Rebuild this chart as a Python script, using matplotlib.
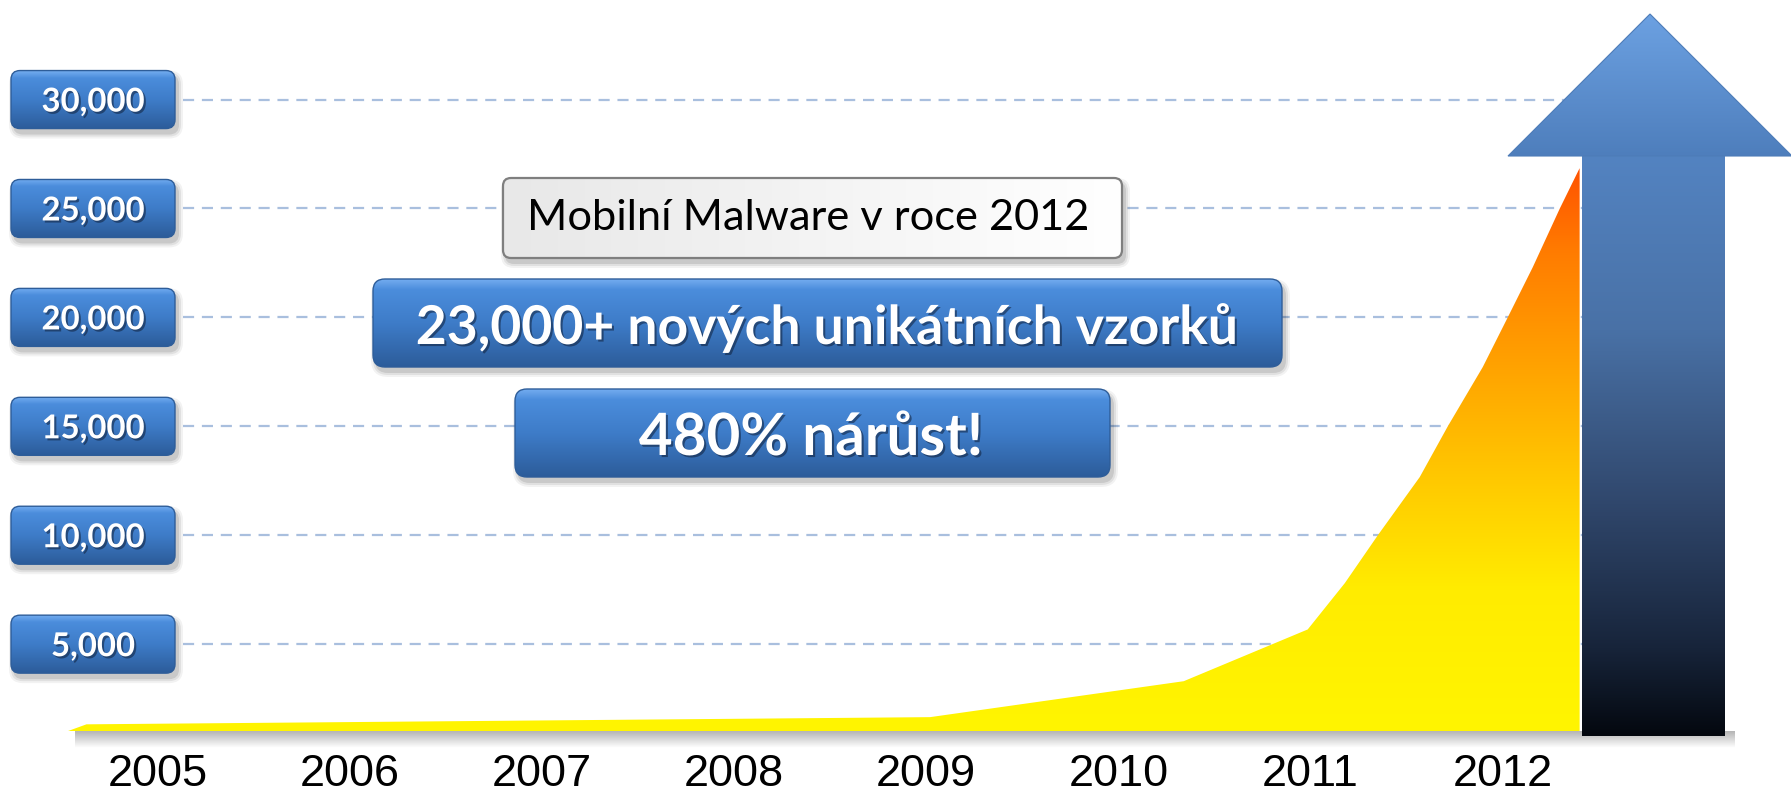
import numpy as np
import matplotlib
matplotlib.use('Agg')
import matplotlib.pyplot as plt
from matplotlib.patches import FancyBboxPatch, Polygon, Rectangle
from matplotlib.colors import LinearSegmentedColormap
import matplotlib.patheffects as pe

# data
years = [2005, 2006, 2007, 2008, 2009, 2010, 2011, 2012]
curve_x = [2004.53, 2004.63, 2009.02, 2010.34, 2010.985, 2011.178, 2011.35, 2011.568, 2011.714,
           2011.896, 2012.026, 2012.156, 2012.297, 2012.40]
curve_y = [1000, 1320, 1650, 3300, 5675, 7800, 10000, 12670, 15000, 17720, 20000, 22300, 25000, 26850]
y_ticks = [5000, 10000, 15000, 20000, 25000, 30000]
y_labels = ['5,000', '10,000', '15,000', '20,000', '25,000', '30,000']
title_text = 'Mobilní Malware v roce 2012'
headline = '23,000+ nových unikátních vzorků'
growth = '480% nárůst!'

W, H = 1791, 796
BASE = 731.3          # pixel row of the area baseline
YMIN, YMAX = 1000, 34570
FONT = ['Lato', 'DejaVu Sans']

fig = plt.figure(figsize=(W / 100, H / 100), dpi=100, facecolor='white')

bg = fig.add_axes([0, 0, 1, 1], zorder=0)
ax = fig.add_axes([0, (H - BASE) / H, 1, BASE / H], zorder=1)
ov = fig.add_axes([0, 0, 1, 1], zorder=2)
for a in (bg, ov):
    a.axis('off')
ax.patch.set_visible(False)
for s in ax.spines.values():
    s.set_visible(False)

blue = LinearSegmentedColormap.from_list('blue', [(0, '#74ADF0'), (0.12, '#4B8DDC'), (0.5, '#3E7CC8'), (1, '#2C5C9A')])
grey = LinearSegmentedColormap.from_list('grey', ['#E8E8E8', '#FFFFFF'])
fire = LinearSegmentedColormap.from_list('fire', [(0, '#FFF500'), (0.25, '#FFEC00'), (0.45, '#FFC800'),
                                                  (0.65, '#FFA200'), (0.85, '#FF7C00'), (1, '#FF5200')])
shaft_cm = LinearSegmentedColormap.from_list('shaft', [(0, '#5383C1'), (0.3, '#4971A6'), (0.6, '#30476C'),
                                                      (0.85, '#17243A'), (1, '#04080F')])
head_cm = LinearSegmentedColormap.from_list('head', ['#6CA1E2', '#4E7EBC'])

grad_v = np.linspace(0, 1, 256).reshape(-1, 1)
grad_h = np.linspace(0, 1, 256).reshape(1, -1)


def val_px(v):
    return BASE - (v - YMIN) / (YMAX - YMIN) * BASE


def gbox(a, x0, y0, x1, y1, cmap, r, ec, lw, horiz=False, z=3):
    for k, al in [(5, 0.05), (3, 0.07), (1, 0.1)]:
        a.add_patch(FancyBboxPatch((x0 + 3 - k, y0 + 5 - k), x1 - x0 + 2 * k, y1 - y0 + 2 * k,
                                   boxstyle=f'round,pad=0,rounding_size={r + k}',
                                   fc='black', ec='none', alpha=al, zorder=z - 0.5))
    p = FancyBboxPatch((x0, y0), x1 - x0, y1 - y0, boxstyle=f'round,pad=0,rounding_size={r}',
                       fc='none', ec=ec, lw=lw, zorder=z + 0.1)
    a.add_patch(p)
    im = a.imshow(grad_h if horiz else grad_v, extent=(x0, x1, y1, y0), cmap=cmap, aspect='auto',
                  origin='upper', interpolation='bicubic', zorder=z)
    im.set_clip_path(p)


shadow = [pe.withSimplePatchShadow(offset=(1.5, -1.5), shadow_rgbFace='#10203a', alpha=0.55)]

# y labels in blue boxes
for v in y_ticks:
    yc = val_px(v)
    gbox(bg, 11, yc - 29, 175, yc + 29, blue, 9, '#2E5D99', 1)

# gridlines
ax.hlines(y_ticks, 2005.132, 2012.5, colors='#A9BFDE', lw=1.6, linestyles=(0, (5, 3.5)), zorder=0.5)

# area with vertical gradient
poly = ax.fill_between(curve_x, curve_y, YMIN, facecolor='none', edgecolor='none', zorder=1)
im = ax.imshow(grad_v[::-1], extent=(min(curve_x), max(curve_x), YMIN, max(curve_y)), cmap=fire,
               aspect='auto', origin='upper', zorder=1)
im.set_clip_path(poly.get_paths()[0], ax.transData)

ax.set_xlim(2004.18, 2013.5)
ax.set_ylim(YMIN, YMAX)
ax.set_xticks(years, labels=[str(y) for y in years])
ax.set_yticks(y_ticks, labels=y_labels)
ax.tick_params(axis='x', length=0, pad=16)
ax.tick_params(axis='y', length=0, pad=-67)
for lbl in ax.get_xticklabels():
    lbl.set_fontsize(32.5)
    lbl.set_family(['Liberation Sans', 'DejaVu Sans'])
for lbl in ax.get_yticklabels():
    lbl.set_ha('center')
    lbl.set_fontsize(23.7)
    lbl.set_fontweight('bold')
    lbl.set_family(FONT)
    lbl.set_color('white')
    lbl.set_path_effects(shadow)

# soft shadow under area
sh = np.zeros((30, 1, 4))
sh[..., :3] = 0.35
sh[..., 3] = np.linspace(0.45, 0, 30).reshape(-1, 1)
ov.imshow(sh, extent=(75, 1735, 748, 731), aspect='auto', origin='upper', zorder=1)

# arrow
shaft = Rectangle((1582, 156), 143, 580, fc='none', ec='none', zorder=5)
ov.add_patch(shaft)
im = ov.imshow(grad_v, extent=(1582, 1725, 736, 156), cmap=shaft_cm, aspect='auto', origin='upper', zorder=5)
im.set_clip_path(shaft)
head = Polygon([(1508, 156), (1650, 14), (1792, 156)], closed=True, fc='none', ec='#4D7CB8', lw=0.8, zorder=6)
ov.add_patch(head)
im = ov.imshow(grad_v, extent=(1508, 1792, 156, 14), cmap=head_cm, aspect='auto', origin='upper', zorder=5.9)
im.set_clip_path(head)

# text boxes
gbox(ov, 503, 178, 1122, 258, grey, 8, '#7F7F7F', 1.6, horiz=True)
ov.text(808, 230, title_text, ha='center', va='baseline', fontsize=31.2, family=FONT, color='black', zorder=10)

gbox(ov, 373, 279, 1282, 367, blue, 12, '#2E5D99', 1)
ov.text(827, 344, headline, ha='center', va='baseline', fontsize=38.5, fontweight='bold', family=FONT,
        color='white', path_effects=shadow, zorder=10)

gbox(ov, 515, 389, 1110, 477, blue, 12, '#2E5D99', 1)
ov.text(811, 455, growth, ha='center', va='baseline', fontsize=42, fontweight='bold', family=FONT,
        color='white', path_effects=shadow, zorder=10)

for a in (bg, ov):
    a.set_xlim(0, W)
    a.set_ylim(H, 0)

fig.savefig('out.png', dpi=100, facecolor='white')
